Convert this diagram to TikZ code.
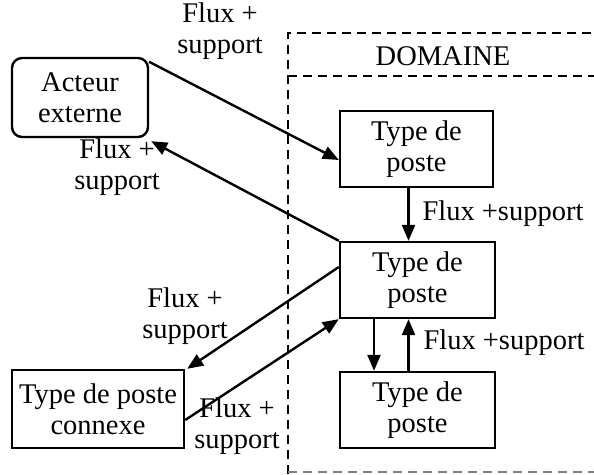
\documentclass[tikz,border=0pt]{standalone}
\usepackage{fontspec}
\setmainfont{Liberation Serif}
\usetikzlibrary{calc,arrows.meta}
\begin{document}
\begin{tikzpicture}[x=1pt,y=-1pt,
  every node/.style={font=\fontsize{28.5}{31}\selectfont, align=center, inner sep=0pt},
  box/.style={draw, line width=2.4pt, minimum width=#1},
  arr/.style={line width=2.4pt, -{Triangle[length=16pt,width=13pt]}},
  dom/.style={line width=2.2pt, dash pattern=on 9pt off 6pt}]
\useasboundingbox (0,0) rectangle (594,474);
% domain
\draw[dom] (288,474) -- (288,33) -- (594,33);
\draw[dom] (288,76) -- (594,76);
\draw[dom, line width=1.4pt, gray] (288,472) -- (594,472);
\node (dlab) at (443,56) {DOMAINE};
% boxes
\node[box=136pt, minimum height=79pt, rounded corners=10pt] (act) at (80,97.5) {Acteur\\externe};
\node[box=153pt, minimum height=76pt] (tp1) at (416.5,149) {Type de\\poste};
\node[box=155pt, minimum height=76pt] (tp2) at (417.5,280) {Type de\\poste};
\node[box=155pt, minimum height=76pt] (tp3) at (417.5,410) {Type de\\poste};
\node[box=172pt, minimum height=78pt] (cx) at (98,409) {Type de poste\\connexe};
% labels
\node (l1) at (220,31) {Flux +\\support};
\node (l2) at (117,167) {Flux +\\support};
\node (l3) at (503,214) {Flux +support};
\node (l4) at (185,316) {Flux +\\support};
\node (l5) at (504,343) {Flux +support};
\node (l6) at (237,426) {Flux +\\support};
% arrows
\draw[arr] ($(act.north east)+(0,5)$) -- ($(tp1.west)+(0,11)$);
\draw[arr] (tp2.north west) -- ($(act.south east)+(2,3)$);
\draw[arr] ($(tp1.south)+(-8,0)$) -- ($(tp2.north)+(-9,0)$);
\draw[arr] ($(tp2.south)+(-43.5,0)$) -- ($(tp3.north)+(-43.5,0)$);
\draw[arr] ($(tp3.north)+(-9,0)$) -- ($(tp2.south)+(-9,0)$);
\draw[arr] ($(tp2.west)+(0,-13)$) -- ($(cx.north east)+(2,0)$);
\draw[arr] ($(cx.east)+(0,11)$) -- (tp2.south west);
\end{tikzpicture}
\end{document}
